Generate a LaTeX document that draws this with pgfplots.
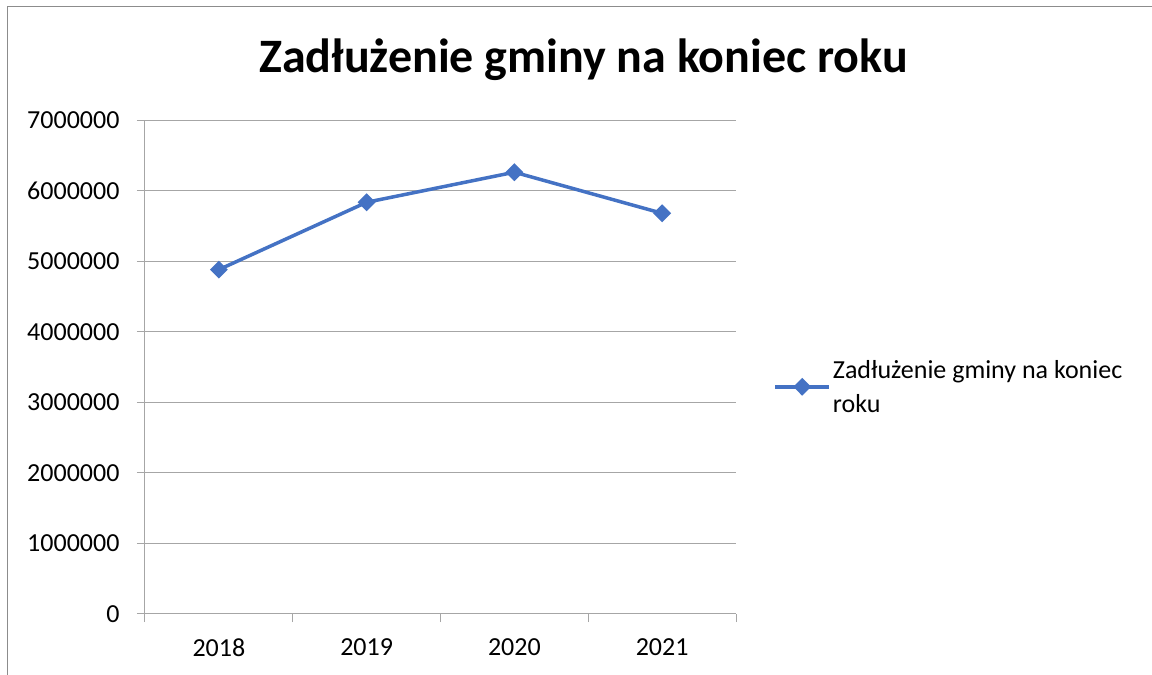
\documentclass[border=0pt]{standalone}
\usepackage{pgfplots}
\pgfplotsset{compat=1.18}
\usepackage{fontspec}
\setmainfont{Carlito}
\definecolor{serblue}{HTML}{4472C4}
\definecolor{gridgray}{HTML}{A6A6A6}
\definecolor{bordergray}{HTML}{8C8C8C}
\begin{document}
\begin{tikzpicture}[x=1pt,y=1pt]
\path[use as bounding box, fill=white] (0,0) rectangle (1152,675);
\draw[bordergray, line width=1pt] (7,0) -- (7,668) -- (1152,668);
\node[font=\fontsize{48}{56}\selectfont\bfseries] at (583.5,615) {Zadłużenie gminy na koniec roku};
\begin{axis}[
  at={(145pt,61pt)}, anchor=south west,
  scale only axis, width=591pt, height=494pt,
  xmin=-0.5, xmax=3.5, ymin=0, ymax=7000000,
  xtick={-0.5,0.5,1.5,2.5,3.5},
  xticklabels={2018,2019,2020,2021},
  x tick label as interval,
  ytick={0,1000000,...,7000000},
  scaled y ticks=false,
  yticklabel={\pgfmathprintnumber[fixed,precision=0,1000 sep={}]{\tick}},
  /pgf/number format/assume math mode=true,
  tick label style={font=\fontsize{26}{31}\selectfont, text=black},
  axis lines*=left,
  axis line style={gridgray, line width=1pt},
  tick style={gridgray, line width=1pt},
  major tick length=8pt,
  tick align=outside,
  ymajorgrids, grid style={gridgray, line width=1pt},
  xticklabel style={yshift=-13pt},
  yticklabel style={xshift=-14pt},
  legend style={at={(1.058,0.46)}, anchor=west, draw=none, fill=none,
    font=\fontsize{26}{34}\selectfont, nodes={align=left, inner sep=2pt}},
  legend cell align=left,
  legend image code/.code={\draw[mark repeat=2,mark phase=2] plot coordinates {(0pt,0pt)(27pt,0pt)(54pt,0pt)};},
]
\addplot[serblue, line width=3.5pt, mark=diamond*, mark size=6.5pt, mark options={xscale=1.33, solid}]
  coordinates {(0,4880000) (1,5834000) (2,6260000) (3,5678000)};
\addlegendentry{Zadłużenie gminy na koniec\\roku}
\end{axis}
\end{tikzpicture}
\end{document}
